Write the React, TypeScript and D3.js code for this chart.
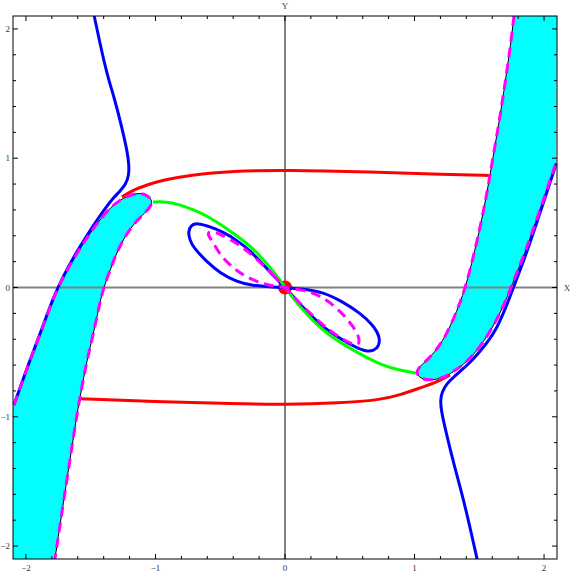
import React from 'react';
import * as d3 from 'd3';

type P = [number, number];

// separatrices (blue)
const blueUpper: P[] = [[-1.473, 2.1], [-1.429, 1.891], [-1.377, 1.659], [-1.313, 1.45], [-1.261, 1.244], [-1.215, 1.04], [-1.205, 0.947], [-1.205, 0.87], [-1.228, 0.8], [-1.274, 0.745], [-1.328, 0.69], [-1.39, 0.61], [-1.452, 0.52], [-1.506, 0.44], [-1.609, 0.275], [-1.712, 0.09], [-1.792, -0.085], [-1.869, -0.3], [-1.969, -0.56], [-2.093, -0.909]];
const blueLower: P[] = [[1.483, -2.1], [1.39, -1.682], [1.305, -1.373], [1.243, -1.118], [1.205, -0.947], [1.2, -0.87], [1.212, -0.808], [1.251, -0.739], [1.313, -0.685], [1.351, -0.648], [1.42, -0.59], [1.506, -0.495], [1.637, -0.33], [1.745, -0.05], [1.86, 0.25], [1.965, 0.565], [2.093, 0.955]];

// figure-eight loop through the origin (closed)
const blueLoop: P[] = [[0, 0], [-0.07, 0.07], [-0.17, 0.18], [-0.27, 0.285], [-0.371, 0.365], [-0.479, 0.43], [-0.579, 0.472], [-0.68, 0.499], [-0.726, 0.483], [-0.749, 0.429], [-0.734, 0.367], [-0.71, 0.313], [-0.602, 0.197], [-0.502, 0.112], [-0.371, 0.043], [-0.247, 0.015], [-0.116, 0.004], [0, 0], [0.139, -0.012], [0.293, -0.035], [0.448, -0.112], [0.579, -0.197], [0.68, -0.29], [0.734, -0.383], [0.726, -0.452], [0.687, -0.491], [0.625, -0.495], [0.556, -0.468], [0.425, -0.395], [0.293, -0.305], [0.193, -0.21], [0.09, -0.1]];
const magentaLoop: P[] = [[0, 0], [-0.07, 0.075], [-0.193, 0.2], [-0.347, 0.33], [-0.502, 0.415], [-0.579, 0.44], [-0.602, 0.414], [-0.556, 0.352], [-0.502, 0.251], [-0.402, 0.151], [-0.324, 0.097], [-0.216, 0.043], [-0.116, 0.015], [0, 0], [0.139, -0.019], [0.27, -0.058], [0.402, -0.159], [0.502, -0.267], [0.564, -0.36], [0.579, -0.429], [0.548, -0.45], [0.479, -0.42], [0.347, -0.34], [0.193, -0.2], [0.07, -0.075]];

// red curves
const redUpper: P[] = [[-1.259, 0.7], [-1.174, 0.754], [-1.066, 0.793], [-0.942, 0.831], [-0.734, 0.87], [-0.402, 0.901], [0, 0.909], [0.672, 0.893], [1.236, 0.874], [1.583, 0.866]];
const redLower: P[] = [[-1.583, -0.86], [-0.911, -0.886], [-0.402, -0.899], [0, -0.906], [0.425, -0.893], [0.734, -0.87], [0.888, -0.831], [1.042, -0.777], [1.174, -0.731], [1.274, -0.677]];

// green curve
const greenCurve: P[] = [[-1.019, 0.661], [-0.911, 0.665], [-0.811, 0.64], [-0.7, 0.598], [-0.605, 0.555], [-0.5, 0.49], [-0.4, 0.42], [-0.3, 0.345], [-0.22, 0.275], [-0.09, 0.13], [0, 0], [0.139, -0.18], [0.293, -0.335], [0.448, -0.44], [0.633, -0.545], [0.749, -0.6], [0.865, -0.635], [1.019, -0.664]];

// cyan bands: outer edge, tip, inner edge
const cyanLeft: P[] = [[-2.093, -0.909], [-1.969, -0.561], [-1.869, -0.305], [-1.792, -0.089], [-1.714, 0.081], [-1.606, 0.267], [-1.506, 0.42], [-1.39, 0.575], [-1.297, 0.665], [-1.2, 0.715], [-1.12, 0.733], [-1.06, 0.712], [-1.022, 0.67], [-1.04, 0.62], [-1.1, 0.56], [-1.17, 0.49], [-1.245, 0.38], [-1.31, 0.245], [-1.355, 0.12], [-1.4, 0], [-1.435, -0.14], [-1.467, -0.305], [-1.529, -0.561], [-1.583, -0.847], [-1.622, -1.079], [-1.66, -1.334], [-1.714, -1.682], [-1.776, -2.1]];
const cyanRight: P[] = [[1.768, 2.1], [1.737, 1.837], [1.699, 1.582], [1.66, 1.319], [1.606, 1.009], [1.56, 0.731], [1.498, 0.421], [1.429, 0.135], [1.39, -0.004], [1.351, -0.12], [1.297, -0.251], [1.236, -0.383], [1.158, -0.499], [1.081, -0.576], [1.027, -0.623], [1.015, -0.67], [1.05, -0.705], [1.12, -0.72], [1.22, -0.7], [1.297, -0.654], [1.405, -0.576], [1.506, -0.46], [1.606, -0.305], [1.683, -0.151], [1.737, -0.019], [1.853, 0.267], [1.961, 0.576], [2.093, 0.963]];

const tickLabels = [-2, -1, 0, 1, 2];

const App = () => {
  const x = d3.scaleLinear().domain([-2.1, 2.1]).range([13, 557]);
  const y = d3.scaleLinear().domain([-2.1, 2.1]).range([559, 16]);
  const line = d3.line<P>().x(d => x(d[0])).y(d => y(d[1])).curve(d3.curveBasis);
  const loop = d3.line<P>().x(d => x(d[0])).y(d => y(d[1])).curve(d3.curveBasisClosed);

  const leftFill = line(cyanLeft) + `L${x(-2.1)},${y(-2.1)}L${x(-2.1)},${y(-0.909)}Z`;
  const rightFill = line(cyanRight) + `L${x(2.1)},${y(2.1)}Z`;
  const minor = x.ticks(20);
  const fmt = (v: number) => (v < 0 ? '\u2212' + Math.abs(v) : String(v));
  const font = '"Liberation Serif", "DejaVu Serif", serif';
  const [x0, x1] = x.range();
  const [y0, y1] = y.range();

  return (
    <svg width={572} height={572} style={{ position: 'absolute', left: 0, top: 0, background: '#fff' }}>
      <defs>
        <clipPath id="plot">
          <rect x={x0} y={y1} width={x1 - x0} height={y0 - y1} />
        </clipPath>
      </defs>
      <g clipPath="url(#plot)">
        <path d={leftFill} fill="#00ffff" />
        <path d={rightFill} fill="#00ffff" />
        <line x1={x(0)} x2={x(0)} y1={y1} y2={y0} stroke="#808080" strokeWidth={2} />
        <line x1={x0} x2={x1} y1={y(0)} y2={y(0)} stroke="#808080" strokeWidth={2} />
        <path d={line(cyanLeft)!} fill="none" stroke="#000" strokeWidth={1} />
        <path d={line(cyanRight)!} fill="none" stroke="#000" strokeWidth={1} />
        <circle cx={x(0)} cy={y(0)} r={7} fill="#ff0000" />
        <path d={line(blueUpper)!} fill="none" stroke="#0000ff" strokeWidth={3} />
        <path d={line(blueLower)!} fill="none" stroke="#0000ff" strokeWidth={3} />
        <path d={loop(blueLoop)!} fill="none" stroke="#0000ff" strokeWidth={3} />
        <path d={line(redUpper)!} fill="none" stroke="#ff0000" strokeWidth={3} />
        <path d={line(redLower)!} fill="none" stroke="#ff0000" strokeWidth={3} />
        <path d={line(greenCurve)!} fill="none" stroke="#00ff00" strokeWidth={3} />
        <path d={line(cyanLeft)!} fill="none" stroke="#ff00ff" strokeWidth={3} strokeDasharray="10,6" />
        <path d={line(cyanRight)!} fill="none" stroke="#ff00ff" strokeWidth={3} strokeDasharray="10,6" />
        <path d={loop(magentaLoop)!} fill="none" stroke="#ff00ff" strokeWidth={3} strokeDasharray="10,6" />
      </g>
      <rect x={x0} y={y1} width={x1 - x0} height={y0 - y1} fill="none" stroke="#000" strokeWidth={1} />
      {minor.map(t => {
        const len = Math.abs(t - Math.round(t)) < 1e-6 ? 5 : 3;
        return (
          <g key={t} stroke="#000" strokeWidth={1}>
            <line x1={x(t)} x2={x(t)} y1={y0} y2={y0 - len} />
            <line x1={x(t)} x2={x(t)} y1={y1} y2={y1 + len} />
            <line x1={x0} x2={x0 + len} y1={y(t)} y2={y(t)} />
            <line x1={x1} x2={x1 - len} y1={y(t)} y2={y(t)} />
          </g>
        );
      })}
      {tickLabels.map(t => (
        <text key={'x' + t} x={x(t)} y={571} textAnchor="middle" fontFamily={font} fontSize={9} fill="#333">{fmt(t)}</text>
      ))}
      {tickLabels.map(t => (
        <text key={'y' + t} x={10} y={y(t) + 3} textAnchor="end" fontFamily={font} fontSize={9} fill="#333">{fmt(t)}</text>
      ))}
      <text x={567} y={291} textAnchor="middle" fontFamily={font} fontSize={9} fill="#444">X</text>
      <text x={x(0)} y={9} textAnchor="middle" fontFamily={font} fontSize={9} fill="#444">Y</text>
    </svg>
  );
};

export default App;
